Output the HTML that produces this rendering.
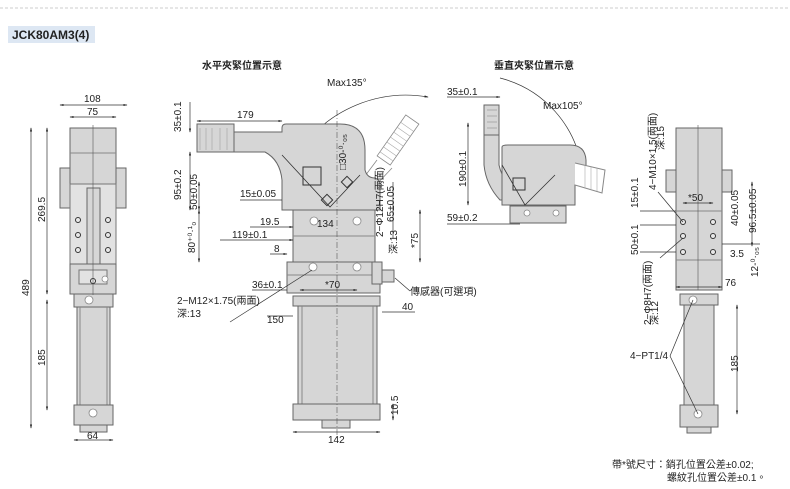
<!DOCTYPE html>
<html><head><meta charset="utf-8"><style>
html,body{margin:0;padding:0;background:#fff;width:790px;height:489px;overflow:hidden}
svg{display:block}
text{font-family:"Liberation Sans","Noto Sans CJK TC",sans-serif;font-size:10px;fill:#222}
.b{fill:#d6d6d6;stroke:#666;stroke-width:1}
.l{fill:#e2e2e2;stroke:#777;stroke-width:1}
.d{stroke:#333;stroke-width:0.7;fill:none}
.c{stroke:#555;stroke-width:0.6;fill:none;stroke-dasharray:6 2 1 2}
.h{fill:#e8e8e8;stroke:#333;stroke-width:1}
.g{fill:#fff;stroke:#888;stroke-width:0.8}
</style></head><body>
<svg width="790" height="489" viewBox="0 0 790 489">
<defs><marker id="a" markerWidth="6" markerHeight="6" refX="5" refY="3" orient="auto-start-reverse"><path d="M0,1.5 L6,3 L0,4.5z" fill="#222"/></marker></defs>
<line x1="0" y1="8" x2="790" y2="8" stroke="#ccc" stroke-dasharray="3 2"/>
<rect x="8" y="26" width="87" height="17" fill="#dde7f3"/>
<text x="12" y="39" style="font-size:12px;font-weight:bold">JCK80AM3(4)</text>

<!-- LEFT VIEW -->
<rect class="b" x="60" y="168" width="10" height="40"/><rect class="b" x="116" y="168" width="10" height="40"/>
<rect class="b" x="70" y="128" width="46" height="56"/>
<line x1="70" y1="153" x2="116" y2="153" stroke="#888"/>
<rect class="l" x="70" y="184" width="46" height="80"/>
<rect class="b" x="87" y="188" width="13" height="76"/>
<circle class="h" cx="78" cy="220" r="2.5"/><circle class="h" cx="78" cy="235" r="2.5"/><circle class="h" cx="78" cy="250" r="2.5"/>
<circle class="h" cx="108" cy="220" r="2.5"/><circle class="h" cx="108" cy="235" r="2.5"/><circle class="h" cx="108" cy="250" r="2.5"/>
<rect class="b" x="70" y="264" width="46" height="30"/>
<rect class="l" x="79" y="270" width="28" height="14"/>
<circle class="h" cx="93" cy="281" r="2.5"/><circle class="g" cx="105" cy="279" r="3"/>
<rect class="b" x="74" y="294" width="39" height="13"/><circle class="g" cx="89" cy="300" r="4"/>
<rect class="b" x="77" y="307" width="33" height="98"/>
<line x1="80" y1="307" x2="80" y2="405" stroke="#888"/><line x1="107" y1="307" x2="107" y2="405" stroke="#888"/>
<rect class="b" x="74" y="405" width="39" height="20"/><circle class="g" cx="93" cy="413" r="4"/>
<rect class="b" x="80" y="425" width="27" height="7"/>
<line x1="93" y1="125" x2="93" y2="295" stroke="#555" stroke-width="0.6"/>
<line class="d" x1="60" y1="105" x2="127" y2="105" marker-start="url(#a)" marker-end="url(#a)"/><text x="84" y="102">108</text>
<line class="d" x1="70" y1="117" x2="116" y2="117" marker-start="url(#a)" marker-end="url(#a)"/><text x="87" y="115">75</text>
<line class="d" x1="47" y1="128" x2="47" y2="294" marker-start="url(#a)" marker-end="url(#a)"/>
<text transform="translate(45,222) rotate(-90)">269.5</text>
<line class="d" x1="31" y1="128" x2="31" y2="428" marker-start="url(#a)" marker-end="url(#a)"/>
<text transform="translate(29,296) rotate(-90)">489</text>
<line class="d" x1="47" y1="300" x2="47" y2="410" marker-start="url(#a)" marker-end="url(#a)"/>
<text transform="translate(45,366) rotate(-90)">185</text>
<line class="d" x1="74" y1="440" x2="113" y2="440" marker-start="url(#a)" marker-end="url(#a)"/><text x="87" y="439">64</text>

<!-- MIDDLE VIEW -->
<text x="202" y="69" style="font-weight:bold">水平夾緊位置示意</text>
<path d="M300,150 A130,130 0 0 1 428,97" class="d" marker-end="url(#a)"/>
<text x="327" y="86">Max135°</text>
<g transform="translate(398,140) rotate(-55)">
<rect x="-25" y="-8" width="50" height="16" fill="#fff" stroke="#888" stroke-width="0.8"/>
<path d="M-20,-8 V8 M-14,-8 V8 M-8,-8 V8 M-2,-8 V8 M4,-8 V8 M10,-8 V8 M16,-8 V8" stroke="#aaa" stroke-width="0.6"/>
</g>
<line x1="365" y1="176" x2="377" y2="160" stroke="#888" stroke-width="0.8"/>
<line x1="375" y1="186" x2="392" y2="168" stroke="#888" stroke-width="0.8"/>
<rect class="b" x="197" y="124" width="37" height="28"/>
<path d="M200,128 V150 M206,128 V150 M212,128 V150 M220,128 V150 M227,128 V150" stroke="#aaa" stroke-width="0.7"/>
<path class="b" d="M234,132 L282,132 L282,128 Q282,124 286,124 L340,124 Q365,124 365,150 L365,170 Q367,178 375,178 Q380,180 380,184 L380,210 L282,210 L282,180 Q280,160 265,152 L234,152z"/>
<rect x="303" y="167" width="18" height="18" fill="none" stroke="#333"/>
<path d="M282,155 L330,207 L360,175" fill="none" stroke="#333" stroke-width="0.8"/>
<rect x="323" y="196" width="8" height="8" fill="none" stroke="#333" transform="rotate(45 327 200)"/>
<rect x="343" y="178" width="8" height="8" fill="none" stroke="#333" transform="rotate(45 347 182)"/>
<rect class="b" x="293" y="210" width="82" height="52"/>
<rect class="b" x="287" y="262" width="93" height="31"/>
<line x1="287" y1="275" x2="380" y2="275" stroke="#888"/>
<line x1="293" y1="236" x2="375" y2="236" stroke="#888"/>
<circle class="g" cx="314" cy="221" r="4"/><circle class="g" cx="357" cy="221" r="4"/>
<circle class="g" cx="313" cy="267" r="4"/><circle class="g" cx="357" cy="267" r="4"/>
<rect class="b" x="372" y="262" width="10" height="22"/><rect class="b" x="382" y="270" width="12" height="12"/>
<rect class="b" x="293" y="296" width="87" height="10"/>
<rect class="b" x="298" y="306" width="79" height="98"/>
<line x1="302" y1="306" x2="302" y2="404" stroke="#888"/><line x1="373" y1="306" x2="373" y2="404" stroke="#888"/>
<rect class="b" x="293" y="404" width="87" height="16"/>
<rect class="b" x="322" y="420" width="28" height="8"/>
<line class="c" x1="337" y1="110" x2="337" y2="440"/>
<line class="d" x1="197" y1="121" x2="282" y2="121" marker-start="url(#a)" marker-end="url(#a)"/><text x="237" y="118">179</text>
<line class="d" x1="190" y1="102" x2="190" y2="132" marker-end="url(#a)"/><text transform="translate(181,132) rotate(-90)">35±0.1</text>
<line class="d" x1="190" y1="152" x2="190" y2="210" marker-start="url(#a)" marker-end="url(#a)"/><text transform="translate(181,200) rotate(-90)">95±0.2</text>
<line class="d" x1="199" y1="182" x2="199" y2="210" marker-start="url(#a)" marker-end="url(#a)"/><text transform="translate(197,210) rotate(-90)">50±0.05</text>
<line class="d" x1="199" y1="210" x2="199" y2="262" marker-start="url(#a)" marker-end="url(#a)"/><text transform="translate(195,253) rotate(-90)">80⁺⁰·¹₀</text>
<line class="d" x1="240" y1="200" x2="282" y2="200"/><text x="240" y="197">15±0.05</text>
<line class="d" x1="250" y1="227" x2="293" y2="227" marker-end="url(#a)"/><text x="260" y="225">19.5</text>
<text x="317" y="227">134</text>
<line class="d" x1="220" y1="240" x2="293" y2="240" marker-end="url(#a)"/><text x="232" y="238">119±0.1</text>
<line class="d" x1="270" y1="254" x2="287" y2="254" marker-end="url(#a)"/><text x="274" y="252">8</text>
<line class="d" x1="252" y1="290" x2="287" y2="290"/><text x="252" y="288">36±0.1</text>
<line class="d" x1="300" y1="290" x2="357" y2="290" marker-start="url(#a)" marker-end="url(#a)"/><text x="325" y="288">*70</text>
<line class="d" x1="230" y1="322" x2="312" y2="270"/><text x="177" y="304">2−M12×1.75(兩面)</text><text x="177" y="317">深:13</text>
<line class="d" x1="267" y1="316" x2="293" y2="316"/><text x="267" y="323">150</text>
<line class="d" x1="382" y1="312" x2="415" y2="312"/><text x="402" y="310">40</text>
<line class="d" x1="395" y1="278" x2="410" y2="291"/><text x="410" y="295">傳感器(可選項)</text>
<line class="d" x1="393" y1="182" x2="393" y2="238"/>
<text transform="translate(394,222) rotate(-90)">65±0.05</text>
<text transform="translate(383,237) rotate(-90)">2−Φ12H7(兩面)</text>
<text transform="translate(397,254) rotate(-90)">深:13</text>
<line class="d" x1="420" y1="210" x2="420" y2="262" marker-start="url(#a)" marker-end="url(#a)"/><text transform="translate(418,248) rotate(-90)">*75</text>
<text transform="translate(346,170) rotate(-90)">□30-⁰·₀₅</text>
<line class="d" x1="393" y1="404" x2="393" y2="420" marker-start="url(#a)" marker-end="url(#a)"/><text transform="translate(398,415) rotate(-90)">10.5</text>
<line class="d" x1="293" y1="432" x2="380" y2="432" marker-start="url(#a)" marker-end="url(#a)"/><text x="328" y="443">142</text>

<!-- VERTICAL CLAMP -->
<text x="494" y="69" style="font-weight:bold">垂直夾緊位置示意</text>
<path d="M500,78 A110,110 0 0 1 582,170" class="d" marker-end="url(#a)"/>
<text x="543" y="109">Max105°</text>
<rect class="b" x="484" y="105" width="15" height="30"/>
<path d="M487,110 H497 M487,116 H497 M487,122 H497 M487,128 H497" stroke="#aaa"/>
<path class="b" d="M484,135 L499,135 L499,165 Q502,180 520,200 L500,200 Q486,185 484,165z"/>
<path class="b" d="M502,147 Q502,145 508,145 L570,145 Q585,145 586,160 L586,185 L575,185 L575,205 L502,205z"/>
<path d="M502,165 L525,205 L555,175" fill="none" stroke="#333" stroke-width="0.8"/>
<rect x="513" y="178" width="12" height="12" fill="none" stroke="#333"/>
<path d="M575,163 L605,170 L602,193 L575,185" fill="#fff" stroke="#888"/>
<path d="M585,166 V188 M591,167 V190 M597,168 V191" stroke="#aaa" stroke-width="0.6"/>
<rect class="b" x="510" y="206" width="56" height="17"/>
<circle class="g" cx="527" cy="213" r="3"/><circle class="g" cx="556" cy="213" r="3"/>
<line class="d" x1="447" y1="97" x2="500" y2="97" marker-end="url(#a)"/><text x="447" y="95">35±0.1</text>
<line class="d" x1="468" y1="123" x2="468" y2="205" marker-start="url(#a)" marker-end="url(#a)"/><text transform="translate(466,187) rotate(-90)">190±0.1</text>
<line class="d" x1="447" y1="224" x2="520" y2="224"/><text x="447" y="221">59±0.2</text>

<!-- RIGHT VIEW -->
<rect class="b" x="666" y="170" width="10" height="22"/><rect class="b" x="722" y="170" width="10" height="22"/>
<rect class="b" x="676" y="128" width="46" height="162"/>
<line x1="676" y1="211" x2="722" y2="211" stroke="#888"/><line x1="676" y1="260" x2="722" y2="260" stroke="#888"/>
<circle class="h" cx="683" cy="222" r="2.5"/><circle class="h" cx="683" cy="236" r="2.5"/><circle class="h" cx="683" cy="252" r="2.5"/>
<circle class="h" cx="713" cy="222" r="2.5"/><circle class="h" cx="713" cy="236" r="2.5"/><circle class="h" cx="713" cy="252" r="2.5"/>
<rect class="b" x="680" y="294" width="38" height="11"/><circle class="g" cx="693" cy="300" r="4"/>
<rect class="b" x="684" y="305" width="30" height="100"/>
<rect class="b" x="680" y="405" width="38" height="22"/><circle class="g" cx="698" cy="414" r="4"/>
<rect class="b" x="687" y="427" width="24" height="6"/>
<line x1="698" y1="125" x2="698" y2="290" stroke="#555" stroke-width="0.6"/>
<text transform="translate(656,190) rotate(-90)">4−M10×1.5(兩面)</text><text transform="translate(664,150) rotate(-90)">深:15</text>
<line class="d" x1="658" y1="192" x2="683" y2="222"/>
<text transform="translate(638,208) rotate(-90)">15±0.1</text>
<line class="d" x1="640" y1="211" x2="676" y2="211"/><line class="d" x1="640" y1="225" x2="676" y2="225"/><line class="d" x1="640" y1="252" x2="676" y2="252"/>
<text transform="translate(638,255) rotate(-90)">50±0.1</text>
<line class="d" x1="683" y1="203" x2="713" y2="203" marker-start="url(#a)" marker-end="url(#a)"/><text x="688" y="201">*50</text>
<text transform="translate(738,226) rotate(-90)">40±0.05</text>
<line class="d" x1="752" y1="182" x2="752" y2="246" marker-start="url(#a)" marker-end="url(#a)"/><text transform="translate(756,233) rotate(-90)">96.5±0.05</text>
<line class="d" x1="722" y1="244" x2="760" y2="244"/><text x="730" y="257">3.5</text>
<text transform="translate(758,277) rotate(-90)">12-⁰·₀₅</text>
<line class="d" x1="676" y1="287" x2="722" y2="287" marker-start="url(#a)" marker-end="url(#a)"/><text x="725" y="286">76</text>
<text transform="translate(651,325) rotate(-90)">2−Φ8H7(兩面)</text><text transform="translate(658,325) rotate(-90)">深:12</text>
<line class="d" x1="660" y1="258" x2="683" y2="238"/>
<text x="630" y="359">4−PT1/4</text>
<line class="d" x1="670" y1="356" x2="693" y2="300"/><line class="d" x1="670" y1="356" x2="698" y2="414"/>
<line class="d" x1="737" y1="305" x2="737" y2="414" marker-start="url(#a)" marker-end="url(#a)"/><text transform="translate(738,372) rotate(-90)">185</text>
<text x="612" y="468">帶*號尺寸：銷孔位置公差±0.02;</text>
<text x="667" y="481">螺紋孔位置公差±0.1。</text>
</svg>
</body></html>
